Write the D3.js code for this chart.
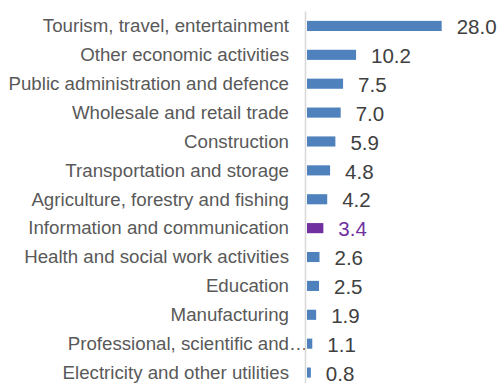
<!DOCTYPE html>
<html>
<head>
<meta charset="utf-8">
<script src="https://cdn.jsdelivr.net/npm/d3@7"></script>
<style>
  html, body { margin: 0; padding: 0; background: #ffffff; }
  svg { display: block; font-family: "Liberation Sans", Arial, sans-serif; }
</style>
</head>
<body>
<svg id="chart" width="501" height="383"></svg>
<script>
const categories = [
  "Tourism, travel, entertainment",
  "Other economic activities",
  "Public administration and defence",
  "Wholesale and retail trade",
  "Construction",
  "Transportation and storage",
  "Agriculture, forestry and fishing",
  "Information and communication",
  "Health and social work activities",
  "Education",
  "Manufacturing",
  "Professional, scientific and technical activities",
  "Electricity and other utilities"
];
const values = [28.0, 10.2, 7.5, 7.0, 5.9, 4.8, 4.2, 3.4, 2.6, 2.5, 1.9, 1.1, 0.8];
const highlighted = ["Information and communication"];
const truncatedLabels = { "Professional, scientific and technical activities": "Professional, scientific and" };

const data = categories.map((c, i) => ({ category: c, value: values[i] }));

const svg = d3.select("#chart");
const axisX = 305.5;
const barStart = 307;

const x = d3.scaleLinear().domain([0, 30]).range([barStart, barStart + 144.3]);
const y = d3.scaleBand().domain(categories).range([11.5, 387]).paddingInner(0.65).paddingOuter(0.325);

const blue = "#4F81BD";
const purple = "#7030A0";

// bars
svg.append("g").selectAll("rect").data(data).join("rect")
  .attr("x", x(0))
  .attr("y", d => y(d.category))
  .attr("width", d => x(d.value) - x(0))
  .attr("height", y.bandwidth())
  .attr("fill", d => highlighted.includes(d.category) ? purple : blue);

// category axis
const axisG = svg.append("g")
  .attr("transform", `translate(${axisX},0)`)
  .call(d3.axisLeft(y).tickSize(0).tickPadding(16.5)
    .tickFormat(d => truncatedLabels[d] || d));
axisG.select(".domain").remove();
axisG.selectAll(".tick text")
  .attr("font-size", "18.7px")
  .attr("font-family", "'Liberation Sans', Arial, sans-serif")
  .attr("fill", "#595959")
  .attr("dy", "0.34em");
// ellipsis for truncated label
axisG.selectAll(".tick").filter(d => truncatedLabels[d])
  .append("text")
  .attr("x", -16.5)
  .attr("dy", "0.34em")
  .attr("text-anchor", "start")
  .attr("font-size", "18.7px")
  .attr("font-family", "'Liberation Sans', Arial, sans-serif")
  .attr("fill", "#595959")
  .text("\u2026");

// axis line
svg.append("line")
  .attr("x1", axisX).attr("x2", axisX)
  .attr("y1", 11.5).attr("y2", 387)
  .attr("stroke", "#D9D9D9")
  .attr("stroke-width", 1.6);

// value labels
svg.append("g").selectAll("text").data(data).join("text")
  .attr("x", d => x(d.value) + 15)
  .attr("y", d => y(d.category) + y.bandwidth() / 2)
  .attr("dy", "0.4em")
  .attr("font-size", "20.5px")
  .attr("fill", d => highlighted.includes(d.category) ? purple : "#404040")
  .text(d => d3.format(".1f")(d.value));
</script>
</body>
</html>
